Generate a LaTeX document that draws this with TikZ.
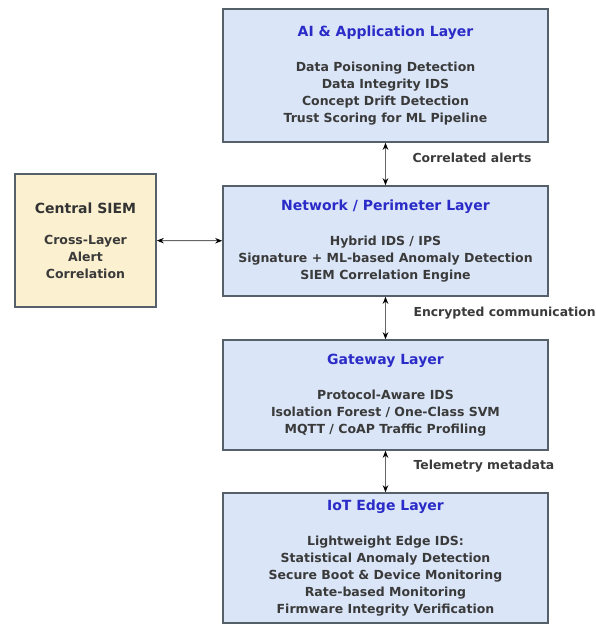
\documentclass[tikz,border=0pt]{standalone}
\usepackage{fontspec}
\setmainfont{DejaVu Sans}
\usetikzlibrary{positioning, arrows, arrows.meta}

\definecolor{layerfill}{HTML}{DAE6F8}
\definecolor{siemfill}{HTML}{FBF0CF}
\definecolor{boxline}{HTML}{55606A}
\definecolor{titleblue}{HTML}{2B2BC8}
\definecolor{bodygray}{HTML}{3A3A3A}

\tikzset{
  layer/.style={draw=boxline, line width=1.6pt, fill=layerfill, minimum width=325pt,
    align=center, inner sep=0pt, text=bodygray,
    font=\fontsize{12.5}{17}\selectfont\bfseries},
  siem/.style={layer, fill=siemfill, minimum width=141pt},
  link/.style={{Stealth[length=7pt, width=5.5pt, color=black]}-{Stealth[length=7pt, width=5.5pt, color=black]},
    draw=gray!80!black, line width=1pt},
  linklabel/.style={anchor=west, text=bodygray, font=\fontsize{12.4}{14}\selectfont\bfseries}
}
\newcommand{\layertitle}[1]{{\fontsize{14}{17}\selectfont\color{titleblue}#1}\\[18pt]}

\begin{document}
\begin{tikzpicture}[x=1pt, y=-1pt]
        \useasboundingbox (0,0) rectangle (596,625);

        % Define nodes
        \node[layer, minimum height=133pt] (ai) at (385.5, 75.5) {\layertitle{AI \& Application Layer}
            Data Poisoning Detection\\ Data Integrity IDS\\ Concept Drift Detection\\ Trust Scoring for ML Pipeline};
        \node[layer, minimum height=110pt] (net) at (385.5, 241) {\layertitle{Network / Perimeter Layer}
            Hybrid IDS / IPS\\ Signature + ML-based Anomaly Detection\\ SIEM Correlation Engine};
        \node[layer, minimum height=110pt] (gw) at (385.5, 395) {\layertitle{Gateway Layer}
            Protocol-Aware IDS\\ Isolation Forest / One-Class SVM\\ MQTT / CoAP Traffic Profiling};
        \node[layer, minimum height=130pt] (iot) at (385.5, 558) {\layertitle{IoT Edge Layer}
            Lightweight Edge IDS:\\ Statistical Anomaly Detection\\ Secure Boot \& Device Monitoring\\ Rate-based Monitoring\\ Firmware Integrity Verification};
        \node[siem, minimum height=133pt] (siem) at (85.5, 240.5) {{\fontsize{14}{17}\selectfont\color{black!80}Central SIEM}\\[14pt]
            Cross-Layer\\ Alert\\ Correlation};

        % Draw edges
        \draw[link] (ai) -- (net);
        \draw[link] (net) -- (gw);
        \draw[link] (gw) -- (iot);
        \draw[link] (siem) -- (net);

        % Edge labels
        \node[linklabel] (lblalerts) at (409, 158) {Correlated alerts};
        \node[linklabel] (lblcomm) at (410, 313) {Encrypted communication};
        \node[linklabel] (lbltele) at (410, 466) {Telemetry metadata};
    \end{tikzpicture}
\end{document}
